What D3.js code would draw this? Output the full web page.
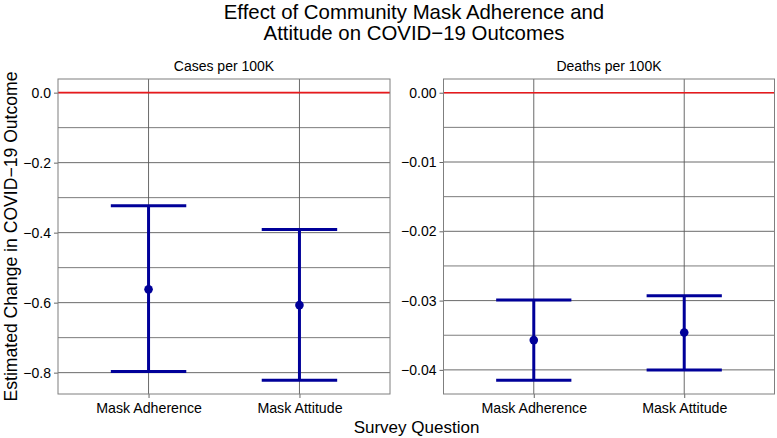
<!DOCTYPE html>
<html>
<head>
<meta charset="utf-8">
<script src="https://cdn.jsdelivr.net/npm/d3@7"></script>
<style>
  body { margin: 0; background: #fff; }
  text { font-family: "Liberation Sans", Arial, Helvetica, sans-serif; fill: #000; }
</style>
</head>
<body>
<div id="chart"></div>
<script>
// data
const questions = ["Mask Adherence", "Mask Attitude"];
const panels = ["Cases per 100K", "Deaths per 100K"];

const casesEst = [-0.562, -0.607];
const casesLow = [-0.797, -0.822];
const casesHigh = [-0.323, -0.391];

const deathsEst = [-0.0357, -0.0346];
const deathsLow = [-0.0415, -0.0400];
const deathsHigh = [-0.0299, -0.0293];

const casesTicks = [0, -0.2, -0.4, -0.6, -0.8];
const deathsTicks = [0, -0.01, -0.02, -0.03, -0.04];

const W = 777, H = 438;
const svg = d3.select("#chart").append("svg")
  .attr("width", W).attr("height", H);

// title
svg.append("text").attr("x", 414).attr("y", 19)
  .attr("text-anchor", "middle").style("font-size", "20.4px")
  .text("Effect of Community Mask Adherence and");
svg.append("text").attr("x", 414).attr("y", 40)
  .attr("text-anchor", "middle").style("font-size", "20.4px")
  .text("Attitude on COVID\u221219 Outcomes");

// axis titles
svg.append("text").attr("x", 416.5).attr("y", 433)
  .attr("text-anchor", "middle").style("font-size", "17px")
  .text("Survey Question");
svg.append("text")
  .attr("transform", "translate(16.5,236.5) rotate(-90)")
  .attr("text-anchor", "middle").style("font-size", "17.6px")
  .text("Estimated Change in COVID\u221219 Outcome");

const plotTop = 79, plotBottom = 394;

function fmt(digits) {
  return d => d === 0 ? (0).toFixed(digits) : "\u2212" + Math.abs(d).toFixed(digits);
}

function panel(opts) {
  const { x0, x1, title, domain, ticks, minor, est, low, high, digits } = opts;
  const g = svg.append("g");

  const x = d3.scalePoint().domain(questions).range([x0, x1]).padding(0.6);
  const y = d3.scaleLinear().domain(domain).range([plotBottom, plotTop]);

  // strip label
  g.append("text").attr("x", (x0 + x1) / 2).attr("y", 70.5)
    .attr("text-anchor", "middle").style("font-size", "14px").text(title);

  // minor grid
  g.selectAll(".minor").data(minor).join("line")
    .attr("x1", x0).attr("x2", x1)
    .attr("y1", d => y(d)).attr("y2", d => y(d))
    .attr("stroke", "#5a5a5a").attr("stroke-width", 0.8);
  // major grid
  g.selectAll(".major").data(ticks).join("line")
    .attr("x1", x0).attr("x2", x1)
    .attr("y1", d => y(d)).attr("y2", d => y(d))
    .attr("stroke", "#5a5a5a").attr("stroke-width", 0.9);
  // vertical grid
  g.selectAll(".vgrid").data(questions).join("line")
    .attr("x1", d => x(d)).attr("x2", d => x(d))
    .attr("y1", plotTop).attr("y2", plotBottom)
    .attr("stroke", "#5a5a5a").attr("stroke-width", 0.9);

  // red zero line
  g.append("line")
    .attr("x1", x0).attr("x2", x1).attr("y1", y(0)).attr("y2", y(0))
    .attr("stroke", "#e8191c").attr("stroke-width", 1.6);

  // axes
  const ya = g.append("g").attr("transform", `translate(${x0},0)`)
    .call(d3.axisLeft(y).tickValues(ticks).tickSize(4).tickPadding(3).tickFormat(fmt(digits)));
  ya.select(".domain").remove();
  ya.selectAll("line").attr("stroke", "#666");
  ya.selectAll("text").style("font-size", "14px").style("font-family", "Liberation Sans, Arial, sans-serif").attr("fill", "#000");

  const xa = g.append("g").attr("transform", `translate(0,${plotBottom})`)
    .call(d3.axisBottom(x).tickSize(4).tickPadding(5));
  xa.select(".domain").remove();
  xa.selectAll("line").attr("stroke", "#666");
  xa.selectAll("text").style("font-size", "14.2px").style("font-family", "Liberation Sans, Arial, sans-serif").attr("fill", "#000");

  // panel border
  g.append("rect").attr("x", x0).attr("y", plotTop)
    .attr("width", x1 - x0).attr("height", plotBottom - plotTop)
    .attr("fill", "none").attr("stroke", "#7f7f7f").attr("stroke-width", 1);

  // error bars
  const step = x.step();
  const half = step * 0.25;
  const color = "#000099";
  questions.forEach((q, i) => {
    const cx = x(q);
    g.append("line").attr("x1", cx).attr("x2", cx)
      .attr("y1", y(low[i])).attr("y2", y(high[i]))
      .attr("stroke", color).attr("stroke-width", 3);
    [low[i], high[i]].forEach(v => {
      g.append("line").attr("x1", cx - half).attr("x2", cx + half)
        .attr("y1", y(v)).attr("y2", y(v))
        .attr("stroke", color).attr("stroke-width", 3);
    });
    g.append("circle").attr("cx", cx).attr("cy", y(est[i])).attr("r", 4.3)
      .attr("fill", color);
  });
}

panel({
  x0: 58, x1: 390, title: panels[0],
  domain: [-0.861, 0.039], ticks: casesTicks,
  minor: [-0.1, -0.3, -0.5, -0.7],
  est: casesEst, low: casesLow, high: casesHigh, digits: 1
});
panel({
  x0: 443.5, x1: 774.5, title: panels[1],
  domain: [-0.04348, 0.00198], ticks: deathsTicks,
  minor: [-0.005, -0.015, -0.025, -0.035],
  est: deathsEst, low: deathsLow, high: deathsHigh, digits: 2
});
</script>
</body>
</html>
